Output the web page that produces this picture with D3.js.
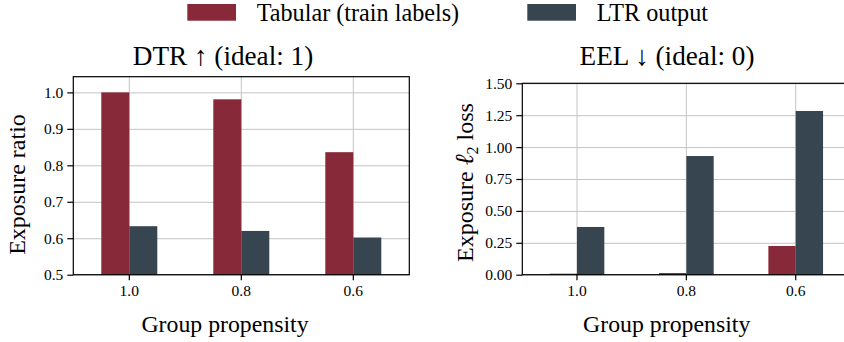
<!DOCTYPE html>
<html>
<head>
<meta charset="utf-8">
<script src="https://cdn.jsdelivr.net/npm/d3@7"></script>
<style>
  body { margin: 0; background: #fff; }
  .grid line { stroke: #c4c4c4; stroke-width: 1; }
  .grid path { display: none; }
  .axis path, .axis line { stroke: #000; stroke-width: 1.2; }
</style>
</head>
<body>
<svg id="chart" width="844" height="342"></svg>
<script>
const categories = ['1.0', '0.8', '0.6'];
const seriesNames = ['Tabular (train labels)', 'LTR output'];
const seriesColors = ['#88293a', '#36454f'];

const tabularDTR = [1.0, 0.981, 0.836];
const ltrDTR = [0.633, 0.62, 0.602];
const tabularEEL = [0.008, 0.013, 0.225];
const ltrEEL = [0.374, 0.93, 1.283];

const dtrTicks = [0.5, 0.6, 0.7, 0.8, 0.9, 1.0];
const eelTicks = [0, 0.25, 0.5, 0.75, 1.0, 1.25, 1.5];

const FONT = '"Liberation Serif", "Times New Roman", "DejaVu Serif", serif';

const svg = d3.select('#chart')
  .attr('font-family', FONT);

// legend
const legend = svg.append('g').attr('class', 'legend');
const legendX = [187.3, 527.3];
seriesNames.forEach((name, i) => {
  legend.append('rect')
    .attr('x', legendX[i]).attr('y', 4)
    .attr('width', 48.7).attr('height', 16.7)
    .attr('fill', seriesColors[i]);
  legend.append('text')
    .attr('x', legendX[i] + 69.4).attr('y', 20.5)
    .attr('font-family', FONT)
    .attr('font-size', 24.2)
    .text(name);
});

function drawPanel(cfg) {
  const {x0, x1, y0, y1} = cfg;
  const g = svg.append('g');

  const x = d3.scaleBand()
    .domain(categories)
    .range([x0, x1])
    .paddingInner(0.5)
    .paddingOuter(0.25);
  const xSub = d3.scaleBand()
    .domain([0, 1])
    .range([0, x.bandwidth()]);
  const y = d3.scaleLinear()
    .domain(cfg.yDomain)
    .range([y1, y0]);

  // grid
  g.append('g')
    .attr('class', 'grid')
    .attr('transform', `translate(${x0},0)`)
    .call(d3.axisLeft(y).tickValues(cfg.ticks).tickSize(-(x1 - x0)).tickFormat(''));
  g.append('g')
    .attr('class', 'grid')
    .attr('transform', `translate(0,${y1})`)
    .call(d3.axisBottom(x).tickSize(-(y1 - y0)).tickFormat(''));

  // bars
  const rows = categories.map((c, i) => ({c, v: [cfg.series[0][i], cfg.series[1][i]]}));
  const grp = g.selectAll('.bar-group')
    .data(rows)
    .enter()
    .append('g')
    .attr('class', 'bar-group')
    .attr('transform', d => `translate(${x(d.c)},0)`);
  grp.selectAll('rect')
    .data(d => d.v.map((v, k) => ({v, k})))
    .enter()
    .append('rect')
    .attr('x', d => xSub(d.k))
    .attr('width', xSub.bandwidth())
    .attr('y', d => y(d.v))
    .attr('height', d => y(cfg.yDomain[0]) - y(d.v))
    .attr('fill', d => seriesColors[d.k]);

  // frame
  g.append('rect')
    .attr('x', x0).attr('y', y0)
    .attr('width', x1 - x0).attr('height', y1 - y0)
    .attr('fill', 'none')
    .attr('stroke', '#000')
    .attr('stroke-width', 1.2);

  // axes
  g.append('g')
    .attr('class', 'axis')
    .attr('transform', `translate(0,${y1})`)
    .call(d3.axisBottom(x).tickSize(5.5).tickPadding(5))
    .attr('font-family', FONT)
    .attr('font-size', 15.5)
    .call(a => a.select('.domain').remove());
  g.append('g')
    .attr('class', 'axis')
    .attr('transform', `translate(${x0},0)`)
    .call(d3.axisLeft(y).tickValues(cfg.ticks).tickFormat(cfg.fmt).tickSize(6).tickPadding(4))
    .attr('font-family', FONT)
    .attr('font-size', 15.5)
    .call(a => a.select('.domain').remove());

  // title
  g.append('text')
    .attr('x', cfg.titleX).attr('y', 65)
    .attr('text-anchor', 'middle')
    .attr('font-family', FONT)
    .attr('font-size', 27.2)
    .text(cfg.title);

  // x label
  g.append('text')
    .attr('x', cfg.xLabelX).attr('y', 331.5)
    .attr('text-anchor', 'middle')
    .attr('font-family', FONT)
    .attr('font-size', 23.8)
    .text('Group propensity');

  // y label
  const yl = g.append('text')
    .attr('transform', `translate(${cfg.yLabelX},${cfg.yLabelY}) rotate(-90)`)
    .attr('text-anchor', 'middle')
    .attr('font-family', FONT)
    .attr('font-size', 24);
  cfg.yLabel(yl);
}

drawPanel({
  x0: 73.3, x1: 409.3, y0: 76.7, y1: 274.7,
  yDomain: [0.5, 1.043],
  ticks: dtrTicks,
  fmt: d3.format('.1f'),
  series: [tabularDTR, ltrDTR],
  title: 'DTR \u2191 (ideal: 1)',
  titleX: 223,
  xLabelX: 225,
  yLabelX: 25, yLabelY: 184.5,
  yLabel: t => t.text('Exposure ratio')
});

drawPanel({
  x0: 522.3, x1: 850.4, y0: 83.3, y1: 274.7,
  yDomain: [0, 1.5],
  ticks: eelTicks,
  fmt: d3.format('.2f'),
  series: [tabularEEL, ltrEEL],
  title: 'EEL \u2193 (ideal: 0)',
  titleX: 667,
  xLabelX: 666.7,
  yLabelX: 473, yLabelY: 182.5,
  yLabel: t => {
    t.append('tspan').text('Exposure ');
    t.append('tspan').attr('font-style', 'italic').attr('font-size', 26).text('\u2113');
    t.append('tspan').attr('font-size', 16).attr('dy', 5).text('2');
    t.append('tspan').attr('dy', -5).text(' loss');
  }
});
</script>
</body>
</html>
